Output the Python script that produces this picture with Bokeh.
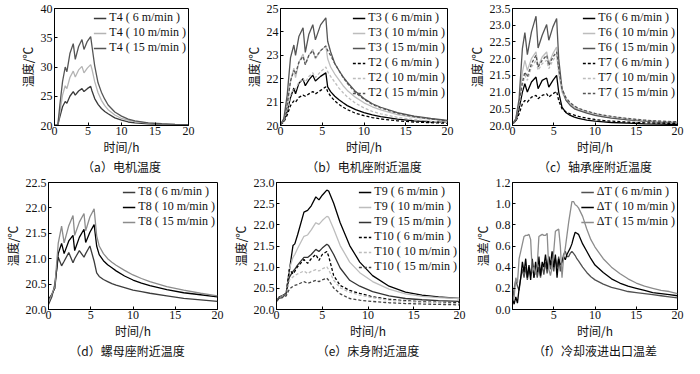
from bokeh.plotting import figure
from bokeh.models import Range1d, FixedTicker, PrintfTickFormatter, Legend, LegendItem
from bokeh.core.properties import value
from bokeh.layouts import column, row
from bokeh.embed import file_html
from bokeh.resources import INLINE

# ---------------- data ----------------
# (a) motor temperature T4
ta = [0, 0.5, 0.8, 1.2, 1.6, 1.85, 2.3, 2.8, 3.1, 3.6, 4.1, 4.4, 4.9, 5.4, 5.6, 6.0, 6.5, 7.0, 7.5, 8.0, 9, 10, 11, 12, 14, 16, 18, 20]
t4_6 = [20.0, 20.1, 21.5, 23.2, 24.1, 23.8, 25.0, 25.8, 25.2, 25.9, 26.3, 25.8, 26.3, 26.7, 25.9, 24.6, 23.6, 22.9, 22.4, 22.0, 21.3, 20.9, 20.6, 20.45, 20.28, 20.18, 20.12, 20.1]
t4_10 = [20.0, 20.1, 22.3, 25.2, 26.8, 26.3, 28.2, 29.3, 28.3, 29.5, 30.1, 29.0, 29.8, 30.4, 29.6, 27.5, 25.6, 24.3, 23.4, 22.7, 21.8, 21.2, 20.9, 20.65, 20.4, 20.25, 20.18, 20.12]
t4_15 = [20.0, 20.1, 23.5, 27.5, 30.0, 29.2, 32.3, 34.0, 31.3, 33.5, 34.7, 33.0, 34.4, 35.2, 33.5, 30.2, 27.3, 25.7, 24.5, 23.5, 22.3, 21.6, 21.1, 20.8, 20.45, 20.3, 20.2, 20.15]

# (b) near motor seat T3 / T2
tb = [0, 0.4, 0.8, 1.2, 1.6, 1.8, 2.2, 2.7, 2.97, 3.4, 3.87, 4.18, 4.8, 5.43, 5.65, 6.0, 6.5, 7, 7.5, 8, 9, 10, 11, 12, 14, 16, 18, 20]
t3_6 = [20.05, 20.2, 20.6, 21.2, 21.6, 21.35, 21.8, 22.0, 21.7, 21.95, 22.15, 21.9, 22.1, 22.25, 21.65, 21.45, 21.25, 21.1, 20.97, 20.85, 20.68, 20.55, 20.45, 20.38, 20.27, 20.2, 20.16, 20.13]
t3_10 = [20.05, 20.25, 20.9, 21.9, 22.45, 22.05, 22.7, 23.05, 22.6, 23.0, 23.25, 22.85, 23.2, 23.4, 22.85, 22.5, 22.2, 21.95, 21.7, 21.5, 21.2, 20.97, 20.8, 20.67, 20.47, 20.35, 20.27, 20.2]
t3_15 = [20.05, 20.3, 21.3, 22.9, 23.44, 23.0, 23.8, 24.18, 23.12, 23.9, 24.31, 23.66, 24.3, 24.6, 23.6, 23.15, 22.65, 22.35, 22.08, 21.85, 21.45, 21.15, 20.93, 20.78, 20.55, 20.4, 20.3, 20.22]
t2_6 = [20.05, 20.15, 20.45, 20.85, 21.05, 21.0, 21.2, 21.3, 21.25, 21.35, 21.45, 21.35, 21.5, 21.65, 21.45, 21.25, 21.05, 20.9, 20.78, 20.68, 20.52, 20.42, 20.34, 20.28, 20.2, 20.15, 20.12, 20.1]
t2_10 = [20.05, 20.2, 20.7, 21.3, 21.6, 21.55, 21.85, 22.0, 21.85, 22.1, 22.25, 22.05, 22.3, 22.5, 22.3, 22.1, 21.85, 21.6, 21.4, 21.22, 20.95, 20.75, 20.6, 20.5, 20.35, 20.25, 20.18, 20.13]
t2_15 = [20.05, 20.25, 20.9, 21.9, 22.35, 22.2, 22.7, 22.95, 22.6, 23.0, 23.2, 22.9, 23.2, 23.4, 23.2, 23.0, 22.65, 22.35, 22.05, 21.8, 21.4, 21.12, 20.9, 20.75, 20.52, 20.38, 20.28, 20.2]

# (c) near bearing seat T6 / T7
tc = [0, 0.4, 0.8, 1.2, 1.5, 1.8, 2.3, 2.85, 3.1, 3.6, 4.14, 4.4, 4.9, 5.35, 5.6, 6.0, 6.5, 7, 7.5, 8, 9, 10, 11, 12, 14, 16, 18, 20]
t6_6 = [20.05, 20.15, 20.5, 21.0, 21.25, 21.0, 21.3, 21.45, 21.1, 21.35, 21.42, 21.15, 21.35, 21.5, 21.0, 20.55, 20.38, 20.3, 20.25, 20.21, 20.16, 20.13, 20.11, 20.09, 20.07, 20.05, 20.04, 20.03]
t6_10 = [20.05, 20.2, 20.7, 21.6, 21.95, 21.65, 22.0, 22.2, 21.75, 22.05, 22.2, 21.85, 22.15, 22.35, 21.6, 21.0, 20.75, 20.62, 20.53, 20.47, 20.39, 20.32, 20.27, 20.23, 20.17, 20.13, 20.1, 20.08]
t6_15 = [20.05, 20.2, 20.8, 22.3, 22.78, 22.12, 22.8, 23.27, 22.32, 22.7, 23.02, 22.55, 22.95, 23.2, 22.0, 21.1, 20.75, 20.6, 20.5, 20.45, 20.37, 20.3, 20.26, 20.22, 20.17, 20.13, 20.1, 20.08]
t7_6 = [20.05, 20.12, 20.35, 20.65, 20.75, 20.7, 20.85, 20.9, 20.8, 20.9, 20.95, 20.85, 20.95, 21.02, 20.75, 20.5, 20.4, 20.35, 20.31, 20.27, 20.22, 20.18, 20.15, 20.13, 20.1, 20.08, 20.07, 20.06]
t7_10 = [20.05, 20.15, 20.6, 21.2, 21.5, 21.35, 21.75, 21.95, 21.65, 21.85, 21.95, 21.7, 21.95, 22.1, 21.6, 21.05, 20.8, 20.66, 20.57, 20.5, 20.42, 20.35, 20.3, 20.26, 20.2, 20.15, 20.12, 20.1]
t7_15 = [20.05, 20.15, 20.65, 21.3, 21.6, 21.45, 21.85, 22.1, 21.75, 21.95, 22.1, 21.8, 22.05, 22.2, 21.7, 21.1, 20.82, 20.68, 20.58, 20.51, 20.43, 20.36, 20.31, 20.27, 20.21, 20.16, 20.13, 20.11]

# (d) near nut seat T8
td = [0, 0.4, 0.75, 1.15, 1.55, 1.85, 2.4, 2.9, 3.1, 3.65, 4.2, 4.4, 4.9, 5.4, 5.7, 6.0, 6.5, 7, 7.5, 8, 9, 10, 11, 12, 14, 16, 18, 20]
t8_6 = [20.1, 20.25, 20.5, 21.03, 20.86, 20.95, 21.12, 20.92, 21.0, 21.16, 21.03, 21.1, 21.25, 20.95, 20.72, 20.65, 20.59, 20.55, 20.51, 20.48, 20.43, 20.38, 20.35, 20.32, 20.27, 20.22, 20.19, 20.16]
t8_10 = [20.2, 20.3, 20.42, 21.1, 21.3, 21.1, 21.35, 21.46, 21.16, 21.42, 21.58, 21.32, 21.52, 21.67, 21.25, 21.08, 20.96, 20.88, 20.82, 20.76, 20.66, 20.58, 20.52, 20.47, 20.39, 20.33, 20.29, 20.25]
t8_15 = [20.15, 20.3, 20.45, 21.3, 21.64, 21.31, 21.65, 21.85, 21.46, 21.72, 21.89, 21.55, 21.82, 21.98, 21.45, 21.25, 21.1, 21.0, 20.93, 20.87, 20.77, 20.68, 20.61, 20.55, 20.45, 20.38, 20.32, 20.27]

# (e) near bed T9 / T10
te = [0, 0.3, 0.65, 1.05, 1.4, 1.8, 2.0, 2.3, 3.0, 3.4, 3.8, 4.3, 4.64, 5.0, 5.5, 5.7, 6.25, 6.96, 8.0, 9.1, 10.5, 12.3, 14.1, 15.9, 17.7, 20]
t9_6 = [20.2, 20.3, 20.33, 20.38, 20.91, 21.51, 21.55, 21.76, 22.3, 22.34, 22.45, 22.66, 22.59, 22.7, 22.82, 22.8, 22.51, 22.05, 21.51, 21.12, 20.8, 20.55, 20.41, 20.34, 20.3, 20.26]
t9_10 = [20.2, 20.28, 20.32, 20.36, 20.95, 21.23, 21.3, 21.44, 21.73, 21.76, 21.88, 22.05, 22.01, 22.1, 22.2, 22.18, 21.9, 21.51, 21.12, 20.87, 20.66, 20.48, 20.37, 20.31, 20.28, 20.26]
t9_15 = [20.2, 20.27, 20.3, 20.35, 20.76, 20.9, 20.95, 21.05, 21.23, 21.23, 21.3, 21.42, 21.37, 21.45, 21.54, 21.51, 21.3, 20.98, 20.69, 20.55, 20.42, 20.32, 20.26, 20.23, 20.21, 20.19]
t10_6 = [20.2, 20.27, 20.3, 20.35, 20.95, 20.84, 20.9, 21.01, 21.18, 21.09, 21.2, 21.3, 21.16, 21.3, 21.37, 21.26, 20.8, 20.57, 20.45, 20.38, 20.3, 20.24, 20.21, 20.18, 20.17, 20.16]
t10_10 = [20.2, 20.27, 20.3, 20.34, 20.69, 20.77, 20.8, 20.84, 20.91, 20.85, 20.9, 20.94, 20.91, 20.96, 21.01, 20.94, 20.69, 20.51, 20.41, 20.34, 20.28, 20.22, 20.19, 20.17, 20.16, 20.14]
t10_15 = [20.2, 20.26, 20.28, 20.32, 20.48, 20.55, 20.57, 20.59, 20.66, 20.62, 20.65, 20.69, 20.66, 20.7, 20.74, 20.69, 20.51, 20.37, 20.26, 20.22, 20.19, 20.16, 20.14, 20.13, 20.12, 20.11]

# (f) coolant inlet/outlet temperature difference
tf = [0.0, 0.2, 0.4, 0.6, 0.8, 1.0, 1.2, 1.4, 1.6, 1.8, 2.0, 2.2, 2.4, 2.6, 2.8, 3.0, 3.2, 3.4, 3.6, 3.8,
      4.0, 4.2, 4.4, 4.6, 4.8, 5.0, 5.2, 5.4, 5.6, 5.8, 6.0, 6.2, 6.4, 6.6, 6.8, 7.0, 7.2, 7.4, 7.6, 7.8,
      8.0, 8.5, 9.0, 9.5, 10, 11, 12, 13, 14, 15, 16, 17, 18, 19, 20]
dt_6 = [0.08, 0.2, 0.28, 0.22, 0.18, 0.3, 0.38, 0.3, 0.4, 0.28, 0.38, 0.32, 0.45, 0.3, 0.42, 0.3, 0.4, 0.3, 0.42, 0.33,
        0.45, 0.34, 0.5, 0.38, 0.46, 0.36, 0.48, 0.4, 0.5, 0.36, 0.45, 0.52, 0.55, 0.5, 0.5, 0.53, 0.55, 0.53, 0.51, 0.48,
        0.46, 0.4, 0.35, 0.31, 0.28, 0.24, 0.21, 0.19, 0.17, 0.16, 0.15, 0.14, 0.13, 0.12, 0.11]
dt_10 = [0.1, 0.05, 0.12, 0.06, 0.2, 0.3, 0.45, 0.35, 0.48, 0.3, 0.42, 0.28, 0.48, 0.3, 0.45, 0.35, 0.5, 0.32, 0.45, 0.4,
         0.52, 0.38, 0.5, 0.42, 0.55, 0.4, 0.52, 0.3, 0.48, 0.42, 0.45, 0.5, 0.47, 0.52, 0.55, 0.58, 0.62, 0.68, 0.73, 0.72,
         0.71, 0.62, 0.55, 0.48, 0.42, 0.35, 0.29, 0.25, 0.22, 0.2, 0.18, 0.16, 0.15, 0.14, 0.13]
dt_15 = [0.08, 0.12, 0.3, 0.25, 0.48, 0.55, 0.62, 0.69, 0.7, 0.7, 0.71, 0.66, 0.35, 0.4, 0.33, 0.42, 0.69, 0.7, 0.71, 0.7,
         0.7, 0.72, 0.38, 0.32, 0.4, 0.55, 0.74, 0.75, 0.76, 0.6, 0.3, 0.5, 0.58, 0.7, 0.82, 0.92, 1.02, 1.02, 0.99, 0.98,
         0.96, 0.88, 0.76, 0.66, 0.59, 0.48, 0.4, 0.34, 0.29, 0.25, 0.22, 0.2, 0.18, 0.17, 0.15]

x_ticks = [0, 5, 10, 15, 20]
x_ticks_f = [5, 10, 15, 20]
y_ticks_a = [20, 25, 30, 35, 40]
y_ticks_b = [20, 21, 22, 23, 24, 25]
y_ticks_c = [20.0, 20.5, 21.0, 21.5, 22.0, 22.5, 23.0, 23.5]
y_ticks_d = [20.0, 20.5, 21.0, 21.5, 22.0, 22.5]
y_ticks_e = [20.0, 20.5, 21.0, 21.5, 22.0, 22.5, 23.0]
y_ticks_f = [0.0, 0.2, 0.4, 0.6, 0.8, 1.0, 1.2]

SERIF = "Liberation Serif"
CJK = "Noto Sans CJK SC"

BLACK = "#000000"
DARK = "#555555"
LIGHT = "#bdbdbd"
MID = "#8c8c8c"
DASH = "3 2"

TOP = 8
BOT = 32
CAP_H = 17


def make_panel(w, h, lb, rb, yr, yticks, fmt, ylabel, series, xticks=x_ticks):
    p = figure(width=w, height=h, x_range=Range1d(0, 20), y_range=Range1d(yr[0], yr[1]),
               output_backend="svg", toolbar_location=None,
               min_border_left=lb, min_border_right=rb, min_border_top=TOP, min_border_bottom=BOT)
    p.xgrid.visible = False
    p.ygrid.visible = False
    p.outline_line_color = "black"
    p.outline_line_width = 1
    p.background_fill_color = "white"
    p.border_fill_color = "white"
    for ax in (p.xaxis[0], p.yaxis[0]):
        ax.major_tick_in = 3
        ax.major_tick_out = 0
        ax.minor_tick_line_color = None
        ax.axis_line_color = "black"
        ax.major_tick_line_color = "black"
        ax.major_label_text_font = SERIF
        ax.major_label_text_font_size = "12px"
        ax.major_label_text_color = "#111111"
        ax.axis_label_text_font = CJK
        ax.axis_label_text_font_size = "12px"
        ax.axis_label_text_font_style = "normal"
        ax.axis_label_text_color = "#111111"
    p.xaxis.major_label_standoff = 1
    p.xaxis.axis_label_standoff = 0
    p.yaxis.major_label_standoff = 2
    p.yaxis.axis_label_standoff = 2
    p.xaxis.ticker = FixedTicker(ticks=xticks)
    p.yaxis.ticker = FixedTicker(ticks=yticks)
    p.yaxis.formatter = PrintfTickFormatter(format=fmt)
    p.xaxis.formatter = PrintfTickFormatter(format="%d")
    p.xaxis.axis_label = "时间/h"
    p.yaxis.axis_label = ylabel
    items = []
    for xs, ys, lab, col, dash in series:
        r = p.line(xs, ys, line_color=col, line_width=1.3, line_dash=dash)
        items.append(LegendItem(label=lab, renderers=[r]))
    lg = Legend(items=items, location="top_right",
                border_line_color=None, background_fill_color=None,
                label_text_font=SERIF, label_text_font_size="12px", label_text_color="#111111",
                glyph_width=13, glyph_height=12, label_height=12, label_standoff=3,
                padding=0, margin=2, spacing=0)
    p.add_layout(lg)
    return p


def caption(w, lb, fw, text, h=CAP_H):
    c = figure(width=w, height=h, x_range=Range1d(0, w), y_range=Range1d(0, h),
               output_backend="svg", toolbar_location=None, min_border=0,
               x_axis_location=None, y_axis_location=None)
    c.xgrid.visible = False
    c.ygrid.visible = False
    c.outline_line_color = None
    c.text(x=[lb + fw / 2], y=[h / 2], text=[text], text_align="center", text_baseline="middle",
           text_font=value(CJK), text_font_size="12px", text_color="#111111")
    return c


H1 = 157
H2 = 358 - 2 * CAP_H - H1
pa = make_panel(226, H1, 54, 38, (20, 40), y_ticks_a, "%d", "温度/℃", [
    (ta, t4_6, "T4 ( 6 m/min )", "#3a3a3a", "solid"),
    (ta, t4_10, "T4 ( 10 m/min )", "#b4b4b4", "solid"),
    (ta, t4_15, "T4 ( 15 m/min )", "#555555", "solid"),
])
pb = make_panel(228, H1, 54, 7, (20, 25), y_ticks_b, "%d", "温度/℃", [
    (tb, t3_6, "T3 ( 6 m/min )", BLACK, "solid"),
    (tb, t3_10, "T3 ( 10 m/min )", LIGHT, "solid"),
    (tb, t3_15, "T3 ( 15 m/min )", DARK, "solid"),
    (tb, t2_6, "T2 ( 6 m/min )", BLACK, DASH),
    (tb, t2_10, "T2 ( 10 m/min )", LIGHT, DASH),
    (tb, t2_15, "T2 ( 15 m/min )", DARK, DASH),
])
pc = make_panel(230, H1, 58, 7, (20, 23.5), y_ticks_c, "%.1f", "温度/℃", [
    (tc, t6_6, "T6 ( 6 m/min )", BLACK, "solid"),
    (tc, t6_10, "T6 ( 10 m/min )", LIGHT, "solid"),
    (tc, t6_15, "T6 ( 15 m/min )", DARK, "solid"),
    (tc, t7_6, "T7 ( 6 m/min )", BLACK, DASH),
    (tc, t7_10, "T7 ( 10 m/min )", LIGHT, DASH),
    (tc, t7_15, "T7 ( 15 m/min )", DARK, DASH),
])
pd_ = make_panel(227, H2, 36, 10, (20, 22.5), y_ticks_d, "%.1f", "温度/℃", [
    (td, t8_6, "T8 ( 6 m/min )", "#3c3c3c", "solid"),
    (td, t8_10, "T8 ( 10 m/min )", BLACK, "solid"),
    (td, t8_15, "T8 ( 15 m/min )", MID, "solid"),
])
pe = make_panel(240, H2, 49, 8, (20, 23), y_ticks_e, "%.1f", "温度/℃", [
    (te, t9_6, "T9 ( 6 m/min )", BLACK, "solid"),
    (te, t9_10, "T9 ( 10 m/min )", LIGHT, "solid"),
    (te, t9_15, "T9 ( 15 m/min )", "#333333", "solid"),
    (te, t10_6, "T10 ( 6 m/min )", BLACK, DASH),
    (te, t10_10, "T10 ( 10 m/min )", LIGHT, DASH),
    (te, t10_15, "T10 ( 15 m/min )", "#444444", DASH),
])
pf = make_panel(217, H2, 45, 7, (0, 1.2), y_ticks_f, "%.1f", "温差/℃", [
    (tf, dt_6, "ΔT ( 6 m/min )", "#505050", "solid"),
    (tf, dt_10, "ΔT ( 10 m/min )", BLACK, "solid"),
    (tf, dt_15, "ΔT ( 15 m/min )", MID, "solid"),
], xticks=x_ticks_f)

caps1 = row(caption(226, 54, 134, "（a）电机温度"),
            caption(228, 54, 167, "（b）电机座附近温度"),
            caption(230, 58, 165, "（c）轴承座附近温度"))
caps2 = row(caption(227, 36, 181, "（d）螺母座附近温度"),
            caption(240, 49, 183, "（e）床身附近温度"),
            caption(217, 45, 165, "（f）冷却液进出口温差"))

layout = column(row(pa, pb, pc), caps1, row(pd_, pe, pf), caps2)
open("out.html", "w").write(file_html(layout, INLINE))
